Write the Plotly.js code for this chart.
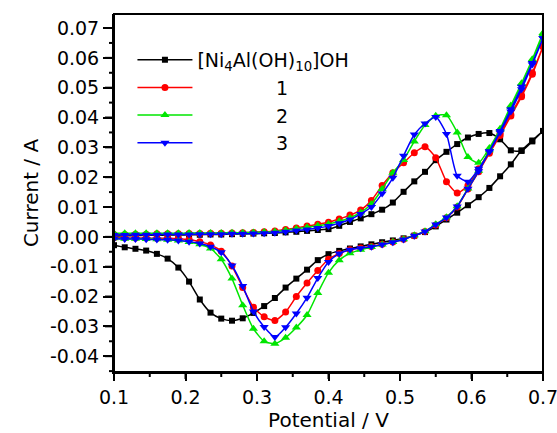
<!DOCTYPE html>
<html>
<head>
<meta charset="utf-8">
<script src="https://cdn.plot.ly/plotly-3.0.1.min.js"></script>
<style>html,body{margin:0;padding:0;background:#fff;}#chart{width:557px;height:433px;}</style>
</head>
<body>
<div id="chart"></div>
<script>
// Potential grid (V), shared by all sweeps
const potential = [0.100,0.115,0.130,0.145,0.160,0.175,0.190,0.205,0.220,0.235,0.250,0.265,0.280,0.295,0.310,0.325,0.340,0.355,0.370,0.385,0.400,0.415,0.430,0.445,0.460,0.475,0.490,0.505,0.520,0.535,0.550,0.565,0.580,0.595,0.610,0.625,0.640,0.655,0.670,0.685,0.700];

// Current (A): anodic (forward) sweep and cathodic (reverse) sweep, both listed at the potentials above
const ldhFwd = [0.0003,0.0004,0.0004,0.0005,0.0005,0.0006,0.0006,0.0007,0.0007,0.0008,0.0008,0.0009,0.0010,0.0011,0.0012,0.0013,0.0015,0.0017,0.0020,0.0023,0.0026,0.0037,0.0050,0.0062,0.0076,0.0091,0.0115,0.0151,0.0186,0.0218,0.0257,0.0285,0.0311,0.0333,0.0345,0.0348,0.0327,0.0290,0.0288,0.0320,0.0355];
const ldhRev = [-0.0028,-0.0035,-0.0040,-0.0046,-0.0057,-0.0073,-0.0103,-0.0150,-0.0210,-0.0254,-0.0274,-0.0281,-0.0273,-0.0255,-0.0232,-0.0205,-0.0170,-0.0140,-0.0110,-0.0078,-0.0058,-0.0047,-0.0039,-0.0032,-0.0025,-0.0018,-0.0012,-0.0005,0.0004,0.0016,0.0035,0.0058,0.0081,0.0106,0.0133,0.0164,0.0203,0.0243,0.0290,0.0323,0.0355];

const s1Fwd = [0.0008,0.0008,0.0009,0.0009,0.0010,0.0010,0.0010,0.0011,0.0011,0.0012,0.0012,0.0013,0.0014,0.0015,0.0017,0.0020,0.0025,0.0030,0.0036,0.0042,0.0049,0.0060,0.0073,0.0090,0.0122,0.0172,0.0215,0.0248,0.0282,0.0302,0.0265,0.0185,0.0147,0.0172,0.0228,0.0287,0.0347,0.0410,0.0475,0.0550,0.0638];
const s1Rev = [-0.0003,-0.0003,-0.0004,-0.0004,-0.0005,-0.0005,-0.0006,-0.0009,-0.0016,-0.0027,-0.0048,-0.0098,-0.0170,-0.0236,-0.0268,-0.0280,-0.0252,-0.0200,-0.0155,-0.0113,-0.0075,-0.0056,-0.0043,-0.0037,-0.0032,-0.0025,-0.0017,-0.0008,0.0004,0.0018,0.0040,0.0064,0.0100,0.0160,0.0218,0.0280,0.0340,0.0405,0.0470,0.0545,0.0638];

const s2Fwd = [0.0012,0.0012,0.0012,0.0012,0.0012,0.0012,0.0012,0.0013,0.0013,0.0013,0.0013,0.0014,0.0014,0.0015,0.0016,0.0018,0.0022,0.0027,0.0032,0.0037,0.0043,0.0052,0.0064,0.0082,0.0110,0.0160,0.0215,0.0258,0.0320,0.0375,0.0406,0.0408,0.0350,0.0268,0.0248,0.0298,0.0362,0.0440,0.0515,0.0595,0.0683];
const s2Rev = [-0.0005,-0.0006,-0.0006,-0.0007,-0.0008,-0.0010,-0.0012,-0.0017,-0.0025,-0.0039,-0.0075,-0.0140,-0.0229,-0.0308,-0.0350,-0.0358,-0.0338,-0.0304,-0.0262,-0.0188,-0.0120,-0.0078,-0.0055,-0.0043,-0.0034,-0.0026,-0.0017,-0.0008,0.0005,0.0019,0.0042,0.0066,0.0103,0.0162,0.0222,0.0290,0.0360,0.0435,0.0512,0.0592,0.0678];

const s3Fwd = [0.0006,0.0006,0.0007,0.0007,0.0007,0.0008,0.0008,0.0008,0.0009,0.0009,0.0009,0.0010,0.0010,0.0011,0.0012,0.0014,0.0017,0.0021,0.0025,0.0030,0.0036,0.0046,0.0058,0.0077,0.0100,0.0145,0.0198,0.0272,0.0343,0.0380,0.0402,0.0345,0.0205,0.0185,0.0228,0.0285,0.0350,0.0420,0.0495,0.0578,0.0666];
const s3Rev = [-0.0006,-0.0007,-0.0007,-0.0008,-0.0009,-0.0010,-0.0012,-0.0016,-0.0022,-0.0033,-0.0052,-0.0096,-0.0165,-0.0250,-0.0302,-0.0336,-0.0303,-0.0257,-0.0204,-0.0138,-0.0084,-0.0056,-0.0043,-0.0038,-0.0033,-0.0026,-0.0018,-0.0009,0.0004,0.0018,0.0041,0.0065,0.0102,0.0161,0.0220,0.0287,0.0355,0.0428,0.0503,0.0583,0.0666];

const seriesNames = ['[Ni<sub>4</sub>Al(OH)<sub>10</sub>]OH', '1', '2', '3'];
const xRange = [0.1, 0.7];
const yRange = [-0.0453, 0.0747];
const xTickVals = [0.1,0.2,0.3,0.4,0.5,0.6,0.7];
const xTickText = ['0.1','0.2','0.3','0.4','0.5','0.6','0.7'];
const xMinorVals = [0.15,0.25,0.35,0.45,0.55,0.65];
const yTickVals = [-0.04,-0.03,-0.02,-0.01,0.00,0.01,0.02,0.03,0.04,0.05,0.06,0.07];
const yTickText = ['-0.04','-0.03','-0.02','-0.01','0.00','0.01','0.02','0.03','0.04','0.05','0.06','0.07'];
const yMinorVals = [-0.045,-0.035,-0.025,-0.015,-0.005,0.005,0.015,0.025,0.035,0.045,0.055,0.065];

const colors = ['#000000', '#ff0000', '#00e600', '#0000ff'];
const symbols = ['square', 'circle', 'triangle-up', 'triangle-down'];
const sizes = [6, 7, 8, 8];
const fwd = [ldhFwd, s1Fwd, s2Fwd, s3Fwd];
const rev = [ldhRev, s1Rev, s2Rev, s3Rev];

const pad = '\u00A0'.repeat(13);
const traces = fwd.map((f, i) => {
  const revX = potential.slice().reverse();
  const revY = rev[i].slice().reverse();
  return {
    type: 'scatter',
    mode: 'lines+markers',
    name: i === 0 ? seriesNames[i] : pad + seriesNames[i],
    x: potential.concat(revX),
    y: f.concat(revY),
    line: {color: colors[i], width: 1.5, shape: 'spline', smoothing: 0.6},
    marker: {color: colors[i], symbol: symbols[i], size: sizes[i], line: {width: 0}}
  };
});

// plot-area size in px (for converting tick lengths to paper units)
const W = 557, H = 433, M = {l: 114, r: 14, t: 14, b: 61};
const plotW = W - M.l - M.r, plotH = H - M.t - M.b;
const XMAJ = 7, XMIN = 5, YMAJ = 9, YMIN = 5;
const xFrac = v => (v - xRange[0]) / (xRange[1] - xRange[0]);
const yFrac = v => (v - yRange[0]) / (yRange[1] - yRange[0]);

// axis tick marks as unclipped paper-referenced line shapes (frame decoration)
const tickLine = {color: 'black', width: 2};
const tickShapes = [].concat(
  xTickVals.map(v => ({type: 'line', xref: 'paper', yref: 'paper', layer: 'above', x0: xFrac(v), x1: xFrac(v), y0: 0, y1: -XMAJ / plotH, line: tickLine})),
  xMinorVals.map(v => ({type: 'line', xref: 'paper', yref: 'paper', layer: 'above', x0: xFrac(v), x1: xFrac(v), y0: 0, y1: -XMIN / plotH, line: tickLine})),
  yTickVals.map(v => ({type: 'line', xref: 'paper', yref: 'paper', layer: 'above', x0: 0, x1: -YMAJ / plotW, y0: yFrac(v), y1: yFrac(v), line: tickLine})),
  yMinorVals.map(v => ({type: 'line', xref: 'paper', yref: 'paper', layer: 'above', x0: 0, x1: -YMIN / plotW, y0: yFrac(v), y1: yFrac(v), line: tickLine}))
);

const font = 'DejaVu Sans, Arial, sans-serif';
const layout = {
  width: W, height: H,
  margin: M,
  paper_bgcolor: 'white', plot_bgcolor: 'white',
  font: {family: font, color: 'black', size: 19},
  showlegend: true,
  legend: {
    x: 0.043, y: 0.925, xanchor: 'left', yanchor: 'top',
    bgcolor: 'rgba(0,0,0,0)', borderwidth: 0,
    font: {family: font, size: 19, color: 'black'},
    itemwidth: 55, tracegroupgap: 0
  },
  shapes: [{type: 'rect', xref: 'paper', yref: 'paper', x0: 0, x1: 1, y0: 0, y1: 1,
            line: {color: 'black', width: 2}, fillcolor: 'rgba(0,0,0,0)', layer: 'above'}].concat(tickShapes),
  xaxis: {
    range: xRange, tickmode: 'array', tickvals: xTickVals, ticktext: xTickText,
    ticks: 'outside', ticklen: XMAJ, tickwidth: 2, tickcolor: 'black',
    showline: true, linewidth: 2, linecolor: 'black',
    showgrid: false, zeroline: false, ticklabeloverflow: 'allow',
    tickfont: {family: font, size: 19},
    title: {text: 'Potential / V', font: {family: font, size: 20}, standoff: 6}
  },
  yaxis: {
    range: yRange, tickmode: 'array', tickvals: yTickVals, ticktext: yTickText,
    ticks: 'outside', ticklen: YMAJ, tickwidth: 2, tickcolor: 'black',
    showline: true, linewidth: 2, linecolor: 'black',
    showgrid: false, zeroline: false,
    tickfont: {family: font, size: 19},
    title: {text: 'Current / A', font: {family: font, size: 20}, standoff: 6}
  }
};

Plotly.newPlot('chart', traces, layout, {displayModeBar: false, staticPlot: true});
</script>
</body>
</html>
